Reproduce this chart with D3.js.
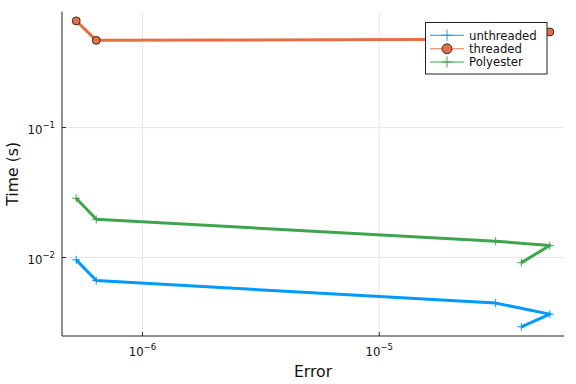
<!DOCTYPE html>
<html><head><meta charset="utf-8">
<script src="https://cdn.jsdelivr.net/npm/d3@7"></script>
<style>body{margin:0;background:#fff}svg{display:block;font-family:"DejaVu Sans",sans-serif}</style>
</head><body><svg id="c" width="576" height="384"></svg>
<script>
const errors = [5.25e-7, 6.38e-7, 3.10e-5, 5.25e-5, 3.98e-5];
const unthreaded = [0.00960, 0.00665, 0.00446, 0.00367, 0.00293];
const threaded = [0.662, 0.469, 0.478, 0.544, 0.49];
const polyester = [0.0286, 0.0197, 0.01337, 0.01236, 0.00914];
const seriesNames = ["unthreaded", "threaded", "Polyester"];
const colors = ["#009AFA", "#E26F46", "#3EA44E"];
const xTickExps = [-6, -5];
const yTickExps = [-2, -1];

const svg = d3.select("#c");
const L = 62, R = 564, T = 11.7, B = 336;

function padLog(vals){
  const lo = Math.log10(d3.min(vals)), hi = Math.log10(d3.max(vals));
  const p = (hi - lo) * 0.03;
  return [Math.pow(10, lo - p), Math.pow(10, hi + p)];
}
const x = d3.scaleLog().domain(padLog(errors)).range([L, R]);
const y = d3.scaleLog().domain(padLog(unthreaded.concat(threaded, polyester))).range([B, T]);

// grid
svg.append("g").selectAll("line").data(xTickExps).join("line")
  .attr("x1", d => x(Math.pow(10,d))).attr("x2", d => x(Math.pow(10,d)))
  .attr("y1", T).attr("y2", B).attr("stroke", "#e8e8e8").attr("stroke-width", 1);
svg.append("g").selectAll("line").data(yTickExps).join("line")
  .attr("x1", L).attr("x2", R)
  .attr("y1", d => y(Math.pow(10,d))).attr("y2", d => y(Math.pow(10,d)))
  .attr("stroke", "#e8e8e8").attr("stroke-width", 1);

// axes
svg.append("line").attr("x1", L).attr("x2", L).attr("y1", T).attr("y2", B).attr("stroke", "#222").attr("stroke-width", 1);
svg.append("line").attr("x1", L).attr("x2", R).attr("y1", B).attr("y2", B).attr("stroke", "#222").attr("stroke-width", 1);

// ticks
xTickExps.forEach(e => {
  const px = x(Math.pow(10, e));
  svg.append("line").attr("x1", px).attr("x2", px).attr("y1", B).attr("y2", B - 4).attr("stroke", "#222");
  const t = svg.append("text").attr("x", px).attr("y", 356).attr("text-anchor", "middle")
    .attr("font-size", 11.7).attr("fill", "#111");
  t.append("tspan").text("10");
  t.append("tspan").attr("dy", -6).attr("font-size", 8.5).text("\u2212" + Math.abs(e));
});
yTickExps.forEach(e => {
  const py = y(Math.pow(10, e));
  svg.append("line").attr("x1", L).attr("x2", L + 4).attr("y1", py).attr("y2", py).attr("stroke", "#222");
  const t = svg.append("text").attr("x", 55).attr("y", py + 6.5).attr("text-anchor", "end")
    .attr("font-size", 11.7).attr("fill", "#111");
  t.append("tspan").text("10");
  t.append("tspan").attr("dy", -6).attr("font-size", 8.5).text("\u2212" + Math.abs(e));
});

// axis labels
svg.append("text").attr("x", (L + R) / 2).attr("y", 377).attr("text-anchor", "middle")
  .attr("font-size", 15.7).attr("fill", "#111").text("Error");
svg.append("text").attr("transform", "translate(17.5," + ((T + B) / 2) + ") rotate(-90)")
  .attr("text-anchor", "middle").attr("font-size", 15.7).attr("fill", "#111").text("Time (s)");

// series
const allSeries = [unthreaded, threaded, polyester];
const line = d3.line().x(d => x(d[0])).y(d => y(d[1]));
function plus(g, cx, cy, h, col, sw){
  g.append("line").attr("x1", cx - h).attr("x2", cx + h).attr("y1", cy).attr("y2", cy).attr("stroke", col).attr("stroke-width", sw);
  g.append("line").attr("x1", cx).attr("x2", cx).attr("y1", cy - h).attr("y2", cy + h).attr("stroke", col).attr("stroke-width", sw);
}
allSeries.forEach((vals, i) => {
  const pts = errors.map((e, j) => [e, vals[j]]);
  const g = svg.append("g");
  g.append("path").datum(pts).attr("d", line).attr("fill", "none")
    .attr("stroke", colors[i]).attr("stroke-width", 3).attr("stroke-linejoin", "round");
  pts.forEach(p => {
    if (i === 1) {
      g.append("circle").attr("cx", x(p[0])).attr("cy", y(p[1])).attr("r", 4)
        .attr("fill", colors[i]).attr("stroke", "#222").attr("stroke-width", 0.9);
    } else {
      plus(g, x(p[0]), y(p[1]), 4, colors[i], 1);
    }
  });
});

// legend
const lg = svg.append("g");
lg.append("rect").attr("x", 425.5).attr("y", 22.5).attr("width", 121.5).attr("height", 51.5)
  .attr("fill", "#fff").attr("stroke", "#222").attr("stroke-width", 1);
const rowY = [35.3, 48.8, 62];
seriesNames.forEach((name, i) => {
  const yy = rowY[i];
  lg.append("line").attr("x1", 430).attr("x2", 464).attr("y1", yy).attr("y2", yy)
    .attr("stroke", colors[i]).attr("stroke-width", 1);
  if (i === 1) {
    lg.append("circle").attr("cx", 447).attr("cy", yy).attr("r", 5)
      .attr("fill", colors[i]).attr("stroke", "#222").attr("stroke-width", 0.9);
  } else {
    plus(lg, 447, yy, 5.5, colors[i], 1);
  }
  lg.append("text").attr("x", 469).attr("y", yy + 4.2).attr("font-size", 11.7).attr("fill", "#111").text(name);
});
</script></body></html>
